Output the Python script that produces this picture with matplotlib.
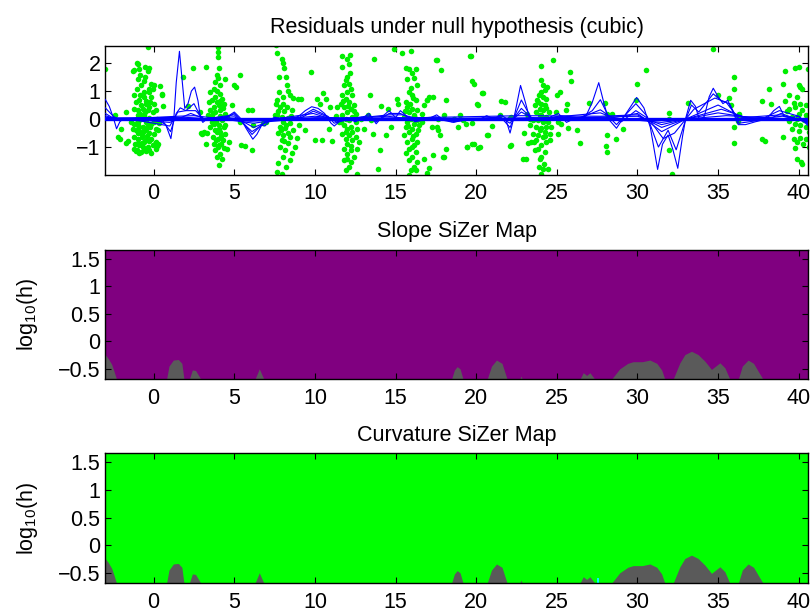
import numpy as np
import matplotlib
matplotlib.use("Agg")
import matplotlib.pyplot as plt
from matplotlib.ticker import FuncFormatter

plt.rcParams['font.family'] = ['Liberation Sans', 'DejaVu Sans']
plt.rcParams['mathtext.default'] = 'regular'

# ---- residual points (x, y), cluster by cluster ----
pts_a = [(-1.19,1.74),(-0.98,1.98),(-0.51,1.86),(-0.27,1.82),(-0.37,1.7),(-0.82,1.56),(-0.94,1.44),
         (-0.78,1.2),(-0.16,1.26),(0.04,1.2),(-0.31,1.08),(-1.19,0.85),(-0.57,0.79),(-0.16,0.79),
         (-0.27,0.96),(-0.06,1.08),(-1.09,0.61),(-0.88,0.67),(-0.78,0.49),(-0.47,0.55),(-0.2,0.61),
         (0.04,0.55),(0.49,0.87),(0.55,0.46),(-1.19,0.37),(-0.94,0.31),(-0.68,0.37),(-0.37,0.31),
         (-0.06,0.25),(0.14,0.31),(-0.98,0.13),(-0.78,0.01),(-0.57,0.07),(-0.27,0.04),(0.04,-0.11),
         (-1.19,-0.17),(-0.94,-0.23),(-0.68,-0.29),(-0.37,-0.23),(-0.16,-0.17),(0.14,-0.35),
         (-1.09,-0.4),(-0.82,-0.46),(-0.57,-0.44),(-0.27,-0.49),(0.04,-0.52),(-1.19,-0.64),
         (-0.98,-0.7),(-0.74,-0.64),(-0.47,-0.76),(-0.16,-0.7),(0.14,-0.82),(-1.15,-0.88),
         (-0.88,-0.94),(-0.61,-0.82),(-0.37,-1.0),(-0.06,-0.94),(-1.02,-1.12),(-0.78,-1.18),
         (-0.47,-1.15),(-0.16,-1.21),(0.29,-0.88),(0.14,-1.06),(-0.68,-1.0),(-0.94,-0.11),
         (-0.47,-0.11),(-0.82,0.19),(-0.53,0.25),(-0.27,0.43),(-1.05,1.08),(-1.19,-1.06),
         (-1.39,-0.11),(-1.29,-0.37),(0.2,0.01),(0.35,-0.14),(-0.57,0.96),(-0.82,0.87),(-0.37,2.57),
         (-1.1,-1.15),(-0.9,-1.2),(-0.6,-1.1),(-0.3,-0.8),(-1.0,-0.5),(-0.7,-0.55),(-0.4,-0.6),
         (-0.5,-0.35),(-0.9,-0.3),(-0.2,-0.3),(-0.6,0.15),(-1.05,0.0),(-0.3,-1.1),(-0.75,-0.85),
         (-1.0,-0.85),(-0.45,0.65),(-0.6,1.35),(-0.9,1.8),(-0.55,1.5)]
pts_left = [(-3.0,1.78),(-2.19,-0.63),(-2.4,0.14),(-1.72,0.24),(-1.72,-0.87),(-2.0,-0.34),(-1.3,1.73),
            (-1.05,1.99),(0.5,0.88),(0.29,-0.39),(0.08,-0.89),(0.18,-0.96),(0.39,1.18),(-1.6,-0.8),
            (-2.1,-0.7),(1.84,1.51),(2.42,1.81),(2.15,0.46),(2.87,0.26),(3.24,1.87),(3.07,-0.51),
            (2.95,-0.5),(3.35,0.14)]
pts_b = [(3.98,2.57),(4.0,2.39),(3.98,2.21),(4.04,1.82),(3.93,1.56),(4.0,1.46),(3.83,1.32),(4.14,1.2),
         (3.73,1.08),(3.83,0.79),(3.63,0.67),(4.24,0.73),(4.34,0.55),(4.04,0.49),(3.73,0.43),(3.52,0.31),
         (3.83,0.25),(4.14,0.31),(4.45,0.19),(3.63,0.07),(3.93,0.01),(4.24,-0.05),(4.55,0.07),(3.73,-0.17),
         (4.04,-0.23),(4.34,-0.29),(3.52,-0.29),(3.83,-0.4),(4.14,-0.46),(4.45,-0.52),(3.69,-0.64),
         (3.98,-0.7),(4.3,-0.76),(3.11,-0.46),(3.28,-0.49),(3.73,-0.88),(4.04,-0.94),(4.39,-1.04),
         (3.83,-1.12),(4.14,-1.24),(3.93,-1.36),(4.24,-1.42),(4.04,-1.63),(4.55,-1.06),(4.65,-0.82),
         (4.86,0.49),(4.96,1.2),(5.37,1.58),(3.42,0.61),(3.52,0.96),(3.01,-0.52),(3.22,-0.88),
         (3.89,-0.11),(4.14,0.9),(4.41,1.44),(3.9,0.6),(4.1,0.1),(3.8,-0.05),(4.2,-0.6),(3.95,-0.45),
         (4.3,0.4),(3.7,0.2),(4.0,-1.0),(4.2,-0.9),(3.85,-0.75),(4.1,0.65),(3.95,1.0),(4.45,-0.2),
         (3.6,-0.1),(4.05,-0.35)]
pts_bc = [(5.1,1.13),(5.39,-0.93),(5.67,-0.98),(5.86,0.32),(6.1,0.32),(5.37,-0.1),(6.19,-0.23),
          (6.09,-1.12),(6.8,-0.15),(6.95,-0.12),(7.5,0.15),(7.6,0.55)]
pts_c = [(7.63,2.35),(7.6,2.64),(7.93,2.16),(8.0,1.99),(8.08,1.81),(7.8,1.51),(8.2,1.5),(8.24,1.21),
         (7.62,0.68),(8.03,0.8),(8.45,0.86),(8.66,0.74),(7.83,0.44),(8.24,0.44),(8.55,0.32),(7.62,0.14),
         (7.93,0.08),(8.34,0.02),(8.03,-0.1),(8.45,-0.15),(7.83,-0.27),(8.14,-0.33),(8.66,-0.39),
         (7.73,-0.51),(8.03,-0.57),(8.45,-0.63),(7.93,-0.75),(8.34,-0.87),(8.76,-0.99),(7.83,-0.99),
         (8.14,-1.1),(8.55,-1.23),(8.03,-1.35),(8.45,-1.46),(7.73,-1.58),(8.2,-1.7),(7.62,-1.88),
         (7.97,-1.96),(8.97,0.7),(8.86,-0.69),(8.1,0.3),(7.9,-0.4),(8.3,-0.5),(8.0,0.55),(8.35,1.0),
         (7.75,0.95),(8.2,-0.2),(8.5,0.1),(8.1,-0.8),(7.7,0.3)]
pts_cd = [(9.16,0.73),(9.73,1.68),(9.38,-0.4),(10.0,-0.74),(10.41,-0.74),(10.14,0.7),(10.66,0.7),
          (10.3,0.55),(11.07,-0.8),(10.87,-0.35),(10.93,0.44),(10.5,0.92),(9.0,-0.2),(11.3,0.1),
          (11.69,2.27),(12.1,1.98),(11.69,1.86),(12.2,2.3),(12.0,2.15)]
pts_d = [(12.0,1.5),(11.9,1.38),(12.11,1.26),(11.8,1.2),(12.21,1.08),(12.0,0.96),(11.69,0.85),
         (12.31,0.85),(11.9,0.73),(12.11,0.61),(11.59,0.55),(12.42,0.49),(11.8,0.43),(12.21,0.37),
         (12.0,0.25),(12.52,0.19),(11.69,0.13),(12.31,0.07),(11.9,0.01),(12.11,-0.05),(11.59,-0.11),
         (12.52,-0.11),(11.8,-0.23),(12.21,-0.29),(12.0,-0.35),(12.62,-0.35),(12.31,-0.46),
         (11.69,-0.52),(12.11,-0.58),(12.52,-0.64),(11.9,-0.7),(12.31,-0.76),(12.73,-0.82),(12.0,-0.88),
         (11.8,-1.06),(12.21,-1.12),(12.62,-1.06),(12.0,-1.24),(12.42,-1.36),(11.8,-1.48),(12.21,-1.54),
         (12.11,-1.71),(11.9,-1.83),(12.0,-1.42),(12.83,0.01),(11.38,0.43),(11.49,-0.11),(12.05,0.45),
         (11.95,-0.45),(12.25,-0.95),(12.4,0.3),(11.75,0.65),(12.15,1.65)]
pts_de = [(13.41,0.85),(13.66,2.13),(14.11,0.46),(14.52,0.37),(13.29,0.13),(13.62,-0.52),(14.38,-0.58),
          (14.03,-1.12),(13.9,-1.77),(12.62,-1.95),(13.04,-0.35),(14.9,2.51),(15.1,0.73),(15.14,0.55),
          (13.5,-0.05),(14.7,-0.3)]
pts_e = [(15.41,2.37),(15.97,2.42),(15.62,1.82),(15.83,1.8),(16.24,1.77),(16.03,1.65),(15.68,1.44),
         (16.14,1.46),(16.34,1.23),(15.83,0.96),(16.03,0.85),(15.62,0.61),(16.24,0.67),(15.72,0.43),
         (16.03,0.37),(16.34,0.31),(15.83,0.25),(16.14,0.13),(15.52,0.07),(15.93,0.01),(16.34,-0.05),
         (15.72,-0.11),(16.14,-0.17),(15.62,-0.29),(16.03,-0.35),(16.45,-0.23),(15.83,-0.46),
         (16.24,-0.52),(15.52,-0.58),(16.03,-0.7),(16.34,-0.82),(15.72,-0.82),(16.14,-0.94),
         (15.83,-1.06),(16.24,-1.18),(16.03,-1.36),(15.83,-1.48),(16.34,-1.54),(16.14,-1.71),
         (15.93,-1.83),(16.24,-1.83),(15.83,-1.99),(16.96,-1.99),(17.27,-0.29),(17.58,-0.29),
         (16.76,-1.42),(16.65,-0.11),(16.96,0.67),(17.07,0.79),(17.54,2.1),(17.79,1.74),(18.1,0.67),
         (18.1,-1.06),(18.0,-1.36),(17.62,0.01),(16.76,0.51),(16.65,0.19),(15.9,0.55),(16.1,-0.6),
         (15.75,-0.25),(16.2,0.05),(15.65,-1.2),(16.0,-1.0),(15.95,1.1),(16.4,-0.4),(15.6,0.3),
         (16.1,0.75)]
pts_ef = [(17.5,2.11),(19.61,2.26),(19.77,1.35),(20.33,0.92),(20.07,0.53),(17.33,0.8),(16.92,0.68),
          (18.0,0.14),(17.64,-0.39),(17.75,-0.57),(17.3,-1.28),(17.95,-1.34),(16.98,-1.94),(17.1,-1.76),
          (19.4,-0.99),(19.77,-0.89),(20.23,-0.99),(20.68,-0.57),(19.2,-0.04),(19.77,-0.13),(19.0,0.14),
          (21.47,0.14),(22.09,0.05),(21.52,0.65),(22.09,-0.95),(22.92,-1.44),(23.23,-0.85),
          (22.95,-0.51),(23.12,0.19),(21.76,0.61),(19.86,1.26),(20.41,0.94),(20.14,0.51),(20.72,-0.56),
          (19.86,-0.88),(19.44,-1.0),(20.14,-1.04),(22.17,-0.94),(22.13,0.07),(19.38,-0.17),
          (18.6,0.0),(18.9,-0.3),(21.0,-0.25),(19.69,2.25)]
pts_f = [(24.0,1.89),(24.74,2.1),(24.0,1.38),(24.14,1.2),(24.41,1.14),(24.24,1.02),(24.04,0.96),
         (23.87,0.85),(24.14,0.79),(23.79,0.67),(24.35,0.73),(24.04,0.55),(23.62,0.49),(24.24,0.49),
         (23.93,0.37),(24.14,0.31),(23.73,0.25),(24.49,0.25),(23.21,0.07),(24.04,0.13),(24.35,0.07),
         (23.52,-0.05),(23.83,-0.05),(24.14,-0.11),(24.45,-0.11),(23.31,-0.23),(23.73,-0.29),
         (24.04,-0.32),(24.35,-0.29),(24.66,-0.29),(23.93,-0.4),(24.24,-0.46),(23.52,-0.52),
         (23.83,-0.58),(24.55,-0.52),(24.14,-0.64),(23.73,-0.76),(23.42,-0.82),(24.35,-0.82),
         (24.04,-0.94),(23.83,-1.06),(24.24,-1.18),(24.04,-1.36),(23.93,-1.44),(24.14,-1.77),
         (24.45,-1.77),(23.1,-1.42),(23.66,-1.12),(23.58,-0.82),(24.55,-0.76),(25.07,-0.52),
         (25.07,-0.11),(25.07,0.01),(24.97,0.25),(25.03,0.85),(25.18,0.96),(25.28,-0.17),(23.31,0.0),
         (24.04,-1.95),(24.2,-1.6),(23.9,-1.7),(24.1,0.0),(23.95,0.15),(24.25,-0.6),(23.85,0.6),
         (24.3,0.4)]
pts_fg = [(25.8,1.68),(25.86,1.35),(25.65,0.55),(25.59,0.31),(25.65,0.04),(25.69,-0.32),(26.27,-0.4),
          (26.42,-0.85),(27.0,0.57),(27.97,0.58),(28.14,0.19),(28.43,0.19),(28.14,-0.56),(28.03,-0.96),
          (28.14,-1.18),(28.7,-0.7),(29.11,-0.35),(30.0,1.26),(29.94,0.67),(30.5,1.74),(34.69,2.51),
          (31.98,0.23),(31.98,0.01),(31.98,-1.1),(32.13,-1.95),(33.13,0.57),(35.0,0.85),(35.67,0.75),
          (35.83,0.49),(36.0,1.5),(36.0,1.08),(36.29,0.19),(36.25,-0.08),(36.0,-0.29),(36.0,-0.85),
          (37.71,0.63),(37.71,-0.7),(37.88,-0.77),(38.13,1.08),(38.29,0.52),(39.0,1.26),(39.13,1.7),
          (39.0,-0.64),(36.3,0.1)]
pts_g = [(39.75,1.82),(40.0,1.86),(40.73,1.76),(40.0,1.2),(40.1,1.14),(40.21,1.08),(39.42,0.85),
         (39.9,0.79),(40.75,0.79),(39.17,0.63),(39.69,0.58),(40.1,0.55),(40.42,0.51),(39.38,0.37),
         (39.79,0.43),(40.21,0.31),(40.73,0.25),(39.27,0.27),(40.0,0.19),(40.42,0.13),(39.58,0.07),
         (39.9,-0.01),(40.31,-0.05),(40.63,-0.11),(39.79,-0.17),(40.1,-0.23),(40.42,-0.29),
         (39.58,-0.37),(40.0,-0.44),(40.63,-0.46),(39.69,-0.7),(40.1,-0.68),(40.42,-0.73),(39.9,-0.82),
         (40.25,-0.88),(40.63,-1.0),(39.79,-1.04),(39.9,-1.42),(40.17,-1.54),(40.21,-1.6),(39.38,-0.08),
         (40.58,1.77)]

# ---- smooth residual curves, one per bandwidth (wiggly -> flat) ----
c1_x = [-3.0,-2.75,-2.5,-2.3,-2.1,-1.9,-1.0,0.0,0.45,0.75,1.07,1.25,1.4,1.6,1.78,1.93,2.13,2.34,2.54,
        2.75,2.91,3.05,3.3,4.0,4.6,5.0,5.35,5.75,6.15,6.4,6.7,6.9,7.2,7.5,7.9,8.5,9.0,9.4,9.8,10.2,
        10.6,11.0,11.2,11.6,12.0,12.5,13.0,13.35,13.8,14.2,14.6,15.0,15.3,15.7,16.2,17.0,17.55,18.0,
        18.6,19.5,20.1,20.65,21.1,21.5,21.8,22.1,22.4,22.75,23.05,23.3,23.8,24.5,25.1,25.6,26.2,26.8,
        27.2,27.6,27.95,28.2,28.7,29.3,29.95,30.4,30.8,31.25,31.55,31.9,32.2,32.5,32.8,33.0,33.3,
        33.6,33.85,34.15,34.45,34.7,35.0,35.3,35.6,35.85,36.25,36.7,37.3,38.0,38.45,38.8,39.1,39.5,
        40.0,40.6]
c1_y = [0.70,0.45,0.05,-0.35,-0.1,0.0,0.0,0.02,-0.1,-0.2,-0.70,0.0,1.3,2.42,1.3,0.38,0.55,1.0,1.14,
        0.65,0.02,-0.12,0.0,0.03,0.1,0.25,0.05,-0.35,-0.72,-0.55,-0.22,-0.25,-0.05,0.07,0.0,0.02,0.1,
        0.3,0.44,0.38,0.2,-0.15,-0.25,-0.05,0.05,-0.1,0.05,0.2,-0.17,0.1,0.3,0.05,0.3,0.1,-0.1,0.0,
        0.15,-0.05,-0.12,0.0,-0.05,0.12,0.0,0.15,0.05,-0.5,0.2,1.2,0.6,0.05,0.0,0.05,0.2,-0.12,0.05,
        0.1,0.6,1.3,0.5,0.0,-0.33,0.2,0.77,0.4,-0.3,-1.8,-0.9,-0.57,-1.1,-1.76,-0.6,0.05,0.67,0.45,
        -0.05,0.1,0.8,1.1,0.8,0.55,0.67,0.35,-0.2,-0.2,-0.1,0.0,0.3,0.45,0.1,0.05,0.1,-0.25]
c2_x = [-3.0,-2.5,-2.1,-1.5,0.5,1.05,1.4,1.65,2.0,2.5,2.9,3.2,4.5,5.0,5.5,6.1,6.8,7.5,9.0,9.9,10.8,
        11.2,12.0,13.4,13.8,14.6,15.3,16.0,17.5,18.5,20.0,21.5,22.1,22.8,23.4,24.5,25.2,26.5,27.2,
        27.7,28.2,28.7,29.9,30.6,31.3,31.9,32.4,33.0,33.35,33.8,34.7,35.2,35.7,36.3,37.5,38.8,40.0,40.6]
c2_y = [0.4,0.1,-0.05,0.0,-0.02,-0.45,0.2,0.4,0.3,0.55,0.1,-0.05,0.05,0.2,-0.1,-0.55,-0.15,0.03,0.05,
        0.35,0.1,-0.15,0.0,0.12,-0.1,0.2,0.2,0.0,0.08,-0.1,0.0,0.08,-0.3,0.68,0.05,0.02,0.12,0.05,0.3,
        0.69,0.1,-0.2,0.55,0.1,-1.0,-0.4,-1.1,0.0,0.5,0.25,0.9,0.65,0.55,-0.15,-0.05,0.3,0.1,-0.2]
c3_x = [-3.0,-2.4,-1.5,1.0,1.5,2.0,2.6,3.1,5.0,6.1,7.0,9.0,9.9,10.9,11.3,13.4,14.6,15.4,16.5,21.5,
        22.1,22.8,23.5,26.5,27.7,28.4,29.0,29.9,30.7,31.6,32.3,33.0,33.5,34.8,35.5,36.3,38.0,38.9,40.6]
c3_y = [0.2,0.0,0.0,-0.25,0.25,0.3,0.3,0.0,0.15,-0.45,-0.1,0.0,0.28,0.05,-0.1,0.08,0.15,0.15,0.0,
        0.05,-0.15,0.38,0.0,0.05,0.33,0.05,-0.1,0.3,0.0,-0.7,-0.5,0.0,0.35,0.75,0.6,0.0,-0.05,0.2,-0.15]
c4_x = [-3.0,-2.3,-1.5,1.0,2.3,3.2,5.0,6.2,7.5,9.9,11.0,14.5,16.0,22.2,22.8,23.6,27.7,28.5,30.0,
        31.5,33.0,35.0,36.5,38.9,40.6]
c4_y = [0.12,0.0,0.0,-0.12,0.2,0.0,0.08,-0.3,0.0,0.2,0.0,0.1,0.0,-0.05,0.25,0.0,0.22,0.05,0.2,
        -0.45,0.0,0.5,0.05,0.15,-0.1]
c5_x = [-3,-2,1.5,2.5,4,6.2,8,10,12,22.8,27.7,30,31.5,33,35.2,37,39,40.6]
c5_y = [0.07,0.0,0.1,0.12,0.02,-0.15,0.0,0.1,0.0,0.12,0.1,0.15,-0.3,0.0,0.35,0.0,0.1,-0.1]
c6_x = [-3,2,6,10,20,27,30,31.5,33,35,37,40.6]
c6_y = [0.04,0.06,-0.08,0.05,0.02,0.06,0.1,-0.2,0.0,0.22,0.05,-0.05]
c7_x = [-3,6,20,28,31.5,33,35.5,40.6]
c7_y = [0.02,-0.04,0.01,0.06,-0.12,0.0,0.12,-0.03]
flat_x = [-3.0,40.6]
flat_y = [0.0,0.0]

# ---- SiZer maps: top of the grey (not significant) region per location ----
grey_x = [-3.0,-2.8,-2.6,-2.45,-2.3,
          0.8,0.95,1.22,1.53,1.75,1.88,
          2.21,2.4,2.6,2.93,
          6.28,6.55,6.84,
          18.47,18.65,18.82,19.0,19.19,
          20.68,20.95,21.26,21.6,21.92,
          22.7,22.78,22.86,
          26.43,26.64,26.85,27.05,27.36,
          28.39,28.9,29.4,29.73,30.3,30.77,31.2,31.5,31.7,
          32.21,32.63,32.94,33.35,33.76,34.18,34.59,35.11,35.42,35.73,
          36.25,36.5,36.86,37.2,37.5,37.79]
grey_top = [-0.24,-0.32,-0.42,-0.55,-0.69,
            -0.69,-0.45,-0.34,-0.33,-0.40,-0.69,
            -0.69,-0.52,-0.53,-0.69,
            -0.69,-0.5,-0.69,
            -0.69,-0.52,-0.46,-0.5,-0.69,
            -0.69,-0.45,-0.34,-0.4,-0.69,
            -0.69,-0.63,-0.69,
            -0.69,-0.57,-0.62,-0.57,-0.69,
            -0.69,-0.5,-0.4,-0.37,-0.37,-0.34,-0.4,-0.52,-0.69,
            -0.69,-0.39,-0.24,-0.18,-0.24,-0.36,-0.51,-0.39,-0.48,-0.69,
            -0.69,-0.45,-0.34,-0.4,-0.55,-0.69]
cyan_x = [27.5, 27.62]
cyan_top = [-0.6, -0.6]

xlim = (-3.0, 40.6)
xticks = [0, 5, 10, 15, 20, 25, 30, 35, 40]
res_yticks = [-1, 0, 1, 2]
map_yticks = [-0.5, 0, 0.5, 1, 1.5]
map_ylim = (-0.69, 1.665)
FS = 15.5

fmt = FuncFormatter(lambda v, p: ('%g' % v).replace('-', '\u2212'))


def style(ax):
    ax.set_xlim(*xlim)
    ax.set_xticks(xticks)
    ax.xaxis.set_major_formatter(fmt)
    ax.yaxis.set_major_formatter(fmt)
    ax.tick_params(direction='in', top=True, right=True, length=4.5, width=0.8,
                   labelsize=FS, color='black')
    ax.tick_params(axis='x', pad=6)
    ax.tick_params(axis='y', pad=3.5)
    for s in ax.spines.values():
        s.set_linewidth(1.0)


fig = plt.figure(figsize=(8.11, 6.16), dpi=100)
ax1 = fig.add_axes([0.1298, 0.7159, 0.867, 0.2099])
ax2 = fig.add_axes([0.1298, 0.3843, 0.867, 0.2099])
ax3 = fig.add_axes([0.1298, 0.0531, 0.867, 0.2110])

# residuals panel
all_pts = pts_a + pts_left + pts_b + pts_bc + pts_c + pts_cd + pts_d + pts_de + pts_e + pts_ef \
    + pts_f + pts_fg + pts_g
px = [p[0] for p in all_pts]
py = [p[1] for p in all_pts]
ax1.plot(px, py, 'o', color='#00ee00', ms=4.0, mec='none', zorder=2)
ax1.plot(flat_x, flat_y, '-', color='#0000ff', lw=2.4, zorder=3)
for cx, cy in [(c7_x, c7_y), (c6_x, c6_y), (c5_x, c5_y), (c4_x, c4_y), (c3_x, c3_y),
               (c2_x, c2_y), (c1_x, c1_y)]:
    ax1.plot(cx, cy, '-', color='#0000ff', lw=0.8, zorder=3)
ax1.set_ylim(-2.0, 2.62)
ax1.set_yticks(res_yticks)
style(ax1)
ax1.set_title('Residuals under null hypothesis (cubic)', fontsize=FS, pad=9)

# SiZer maps
for ax, bg, title in [(ax2, '#800080', 'Slope SiZer Map'),
                      (ax3, '#00ff00', 'Curvature SiZer Map')]:
    ax.set_facecolor(bg)
    ax.fill_between(grey_x, map_ylim[0], grey_top, color='#5a5a5a', lw=0)
    ax.set_ylim(*map_ylim)
    ax.set_yticks(map_yticks)
    style(ax)
    ax.set_title(title, fontsize=FS, pad=9)
    ax.set_ylabel('log$_{10}$(h)', fontsize=FS)
    ax.yaxis.set_label_coords(-0.093, 0.5)
ax3.fill_between(cyan_x, map_ylim[0], cyan_top, color='#00ffff', lw=0)

fig.savefig('out.png', dpi=100)
